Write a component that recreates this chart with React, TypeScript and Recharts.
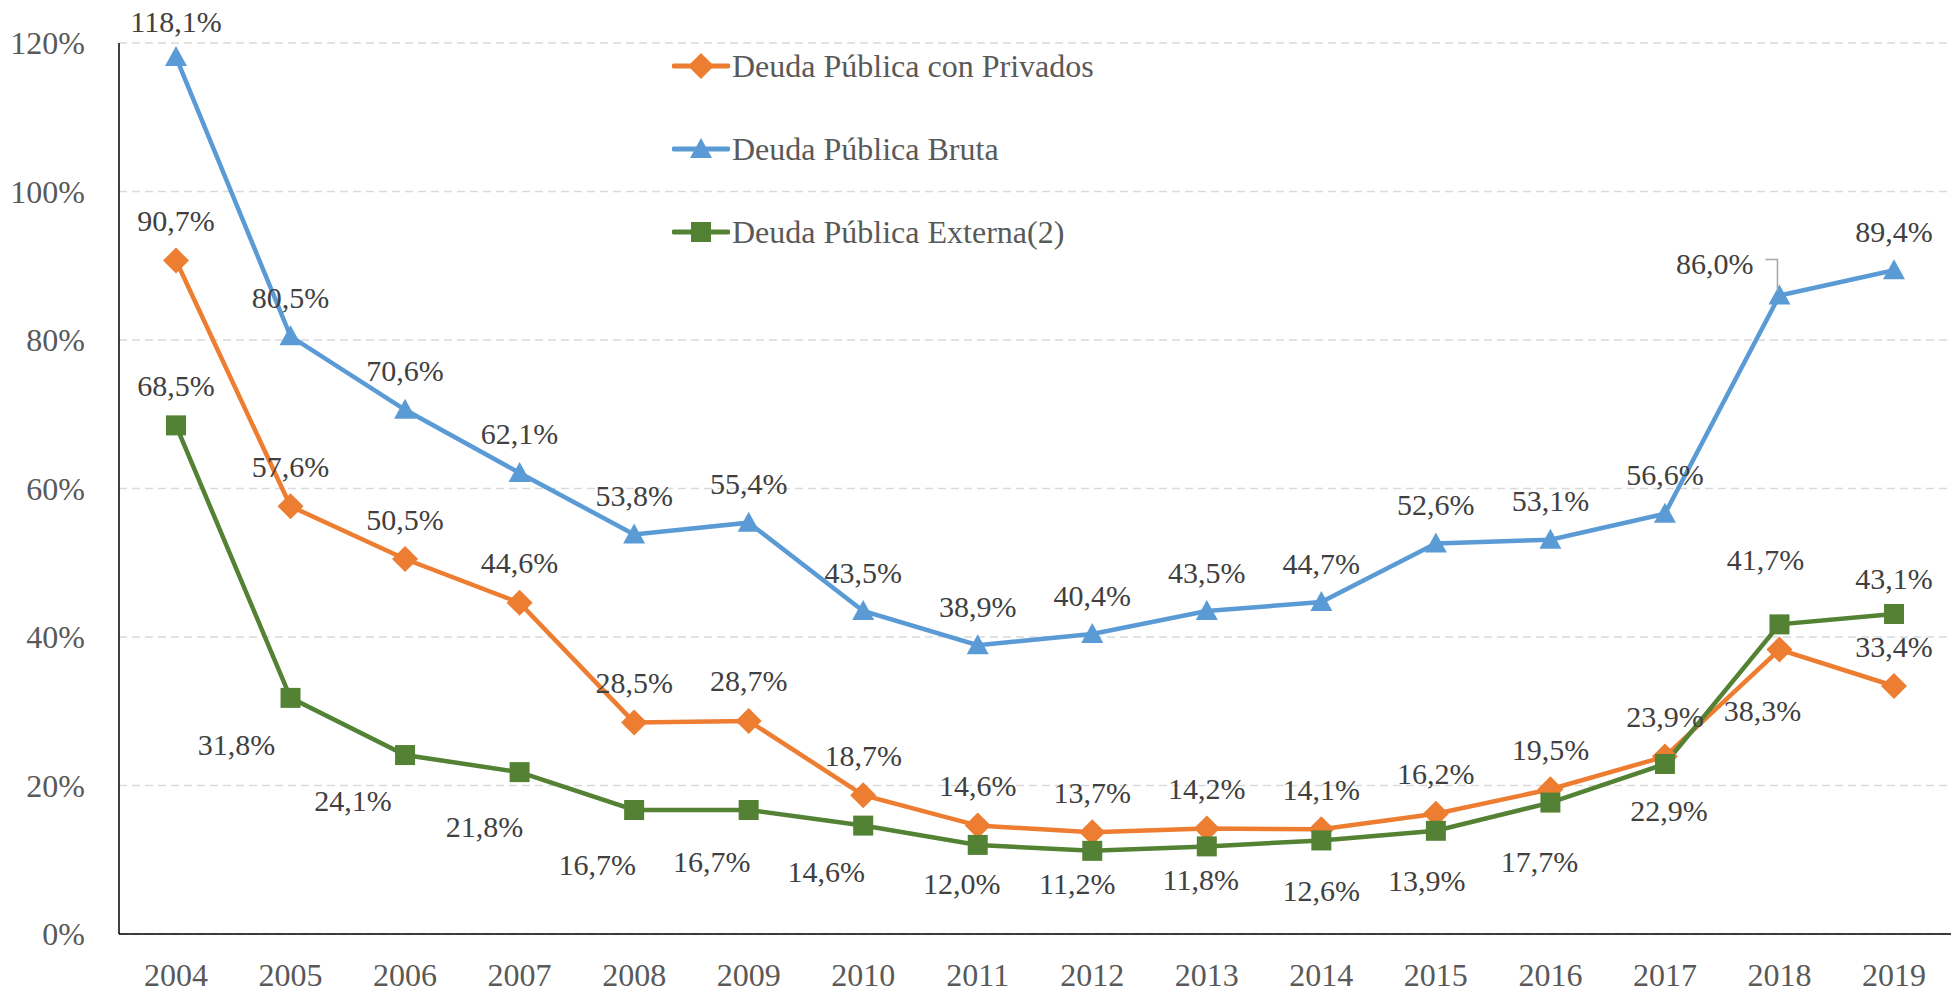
import React from 'react';
import { LineChart, Line, XAxis, YAxis, CartesianGrid, LabelList } from 'recharts';

const years = ['2004', '2005', '2006', '2007', '2008', '2009', '2010', '2011', '2012', '2013', '2014', '2015', '2016', '2017', '2018', '2019'];
const privados = [90.7, 57.6, 50.5, 44.6, 28.5, 28.7, 18.7, 14.6, 13.7, 14.2, 14.1, 16.2, 19.5, 23.9, 38.3, 33.4];
const bruta = [118.1, 80.5, 70.6, 62.1, 53.8, 55.4, 43.5, 38.9, 40.4, 43.5, 44.7, 52.6, 53.1, 56.6, 86.0, 89.4];
const externa = [68.5, 31.8, 24.1, 21.8, 16.7, 16.7, 14.6, 12.0, 11.2, 11.8, 12.6, 13.9, 17.7, 22.9, 41.7, 43.1];
const yTicks = [0, 20, 40, 60, 80, 100, 120];

const seriesNames = ['Deuda Pública con Privados', 'Deuda Pública Bruta', 'Deuda Pública Externa(2)'];

const data = years.map((year, i) => ({
  year,
  privados: privados[i],
  bruta: bruta[i],
  externa: externa[i],
}));

const FONT = "'Liberation Serif', 'DejaVu Serif', 'Times New Roman', serif";
const ORANGE = '#ED7D31';
const BLUE = '#5B9BD5';
const GREEN = '#548235';
const LABEL_COLOR = '#404040';
const TICK_COLOR = '#595959';

// label nudges for the green series (dx, dy from the marker)
const externaLabelOffsets: [number, number][] = [
  [0, -40], [-54, 47], [-52, 45], [-35, 54], [-37, 54], [-37, 51], [-37, 46], [-16, 39],
  [-15, 33], [-6, 33], [0, 50], [-9, 50], [-11, 59], [4, 47], [-14, -65], [0, -35],
];

const fmt = (v: number) => `${v.toFixed(1).replace('.', ',')}%`;

const getXY = (p: any) => ({
  x: p.x ?? p.viewBox?.x,
  y: p.y ?? p.viewBox?.y,
});

const LabelText = ({ x, y, text, anchor = 'middle' }: any) => (
  <text x={x} y={y} textAnchor={anchor} dominantBaseline="central" fontSize={30} fill={LABEL_COLOR} style={{ fontFamily: FONT }}>
    {text}
  </text>
);

const BrutaLabel = (props: any) => {
  const { x, y } = getXY(props);
  if (x == null || y == null) return null;
  if (props.index === 14) {
    return (
      <g>
        <polyline points={`${x - 14},${y - 36} ${x - 2},${y - 36} ${x - 2},${y - 4}`} fill="none" stroke="#a6a6a6" strokeWidth={1.5} />
        <LabelText x={x - 26} y={y - 32} text={fmt(props.value)} anchor="end" />
      </g>
    );
  }
  const dy = props.index === 0 ? -36 : -39;
  return <LabelText x={x} y={y + dy} text={fmt(props.value)} />;
};

const PrivadosLabel = (props: any) => {
  const { x, y } = getXY(props);
  if (x == null || y == null) return null;
  if (props.index === 14) return <LabelText x={x - 17} y={y + 61} text={fmt(props.value)} />;
  return <LabelText x={x} y={y - 40} text={fmt(props.value)} />;
};

const ExternaLabel = (props: any) => {
  const { x, y } = getXY(props);
  if (x == null || y == null) return null;
  const [dx, dy] = externaLabelOffsets[props.index] || [0, 45];
  return <LabelText x={x + dx} y={y + dy} text={fmt(props.value)} />;
};

const Diamond = ({ cx, cy, color }: any) =>
  cx == null ? null : <polygon points={`${cx},${cy - 13} ${cx + 13},${cy} ${cx},${cy + 13} ${cx - 13},${cy}`} fill={color} />;

const Triangle = ({ cx, cy, color }: any) =>
  cx == null ? null : <polygon points={`${cx},${cy - 11} ${cx + 11},${cy + 9} ${cx - 11},${cy + 9}`} fill={color} />;

const Square = ({ cx, cy, color }: any) =>
  cx == null ? null : <rect x={cx - 10} y={cy - 10} width={20} height={20} fill={color} />;

const legendItems = [
  { name: seriesNames[0], color: ORANGE, Marker: Diamond, top: 66 },
  { name: seriesNames[1], color: BLUE, Marker: Triangle, top: 149 },
  { name: seriesNames[2], color: GREEN, Marker: Square, top: 232 },
];

const ChartLegend = () => (
  <>
    {legendItems.map(({ name, color, Marker, top }) => (
      <div
        key={name}
        style={{ position: 'absolute', left: 672, top: top - 20, height: 40, display: 'flex', alignItems: 'center', fontFamily: FONT }}
      >
        <svg width={58} height={40}>
          <line x1={2} y1={20} x2={56} y2={20} stroke={color} strokeWidth={5} strokeLinecap="round" />
          <Marker cx={29} cy={20} color={color} />
        </svg>
        <span style={{ fontSize: 32, color: TICK_COLOR, marginLeft: 2, whiteSpace: 'nowrap', fontFamily: FONT }}>{name}</span>
      </div>
    ))}
  </>
);

const tickStyle = { fontSize: 32, fill: TICK_COLOR, style: { fontFamily: FONT } };

export default function App() {
  return (
    <div style={{ position: 'absolute', left: 0, top: 0, width: 1958, height: 992, background: '#fff', fontFamily: FONT }}>
      <LineChart width={1958} height={992} data={data} margin={{ top: 43, right: 7, bottom: 0, left: 0 }} style={{ fontFamily: FONT }}>
        <CartesianGrid vertical={false} stroke="#d9d9d9" strokeDasharray="8 5" strokeWidth={1.5} />
        <XAxis
          dataKey="year"
          height={58}
          padding={{ left: 57, right: 57 }}
          axisLine={{ stroke: '#000', strokeWidth: 1.5 }}
          tickLine={false}
          tickMargin={23}
          interval={0}
          tick={tickStyle}
        />
        <YAxis
          width={119}
          domain={[0, 120]}
          ticks={yTicks}
          tickFormatter={(v: number) => `${v}%`}
          axisLine={{ stroke: '#000', strokeWidth: 1.5 }}
          tickLine={false}
          tickMargin={28}
          tick={tickStyle}
        />
        <Line
          dataKey="privados"
          name={seriesNames[0]}
          stroke={ORANGE}
          strokeWidth={4.5}
          isAnimationActive={false}
          dot={(p: any) => <Diamond key={`d-${p.index}`} cx={p.cx} cy={p.cy} color={ORANGE} />}
          activeDot={false}
        >
          <LabelList dataKey="privados" content={<PrivadosLabel />} />
        </Line>
        <Line
          dataKey="bruta"
          name={seriesNames[1]}
          stroke={BLUE}
          strokeWidth={4.5}
          isAnimationActive={false}
          dot={(p: any) => <Triangle key={`t-${p.index}`} cx={p.cx} cy={p.cy} color={BLUE} />}
          activeDot={false}
        >
          <LabelList dataKey="bruta" content={<BrutaLabel />} />
        </Line>
        <Line
          dataKey="externa"
          name={seriesNames[2]}
          stroke={GREEN}
          strokeWidth={4.5}
          isAnimationActive={false}
          dot={(p: any) => <Square key={`s-${p.index}`} cx={p.cx} cy={p.cy} color={GREEN} />}
          activeDot={false}
        >
          <LabelList dataKey="externa" content={<ExternaLabel />} />
        </Line>
      </LineChart>
      <ChartLegend />
    </div>
  );
}
